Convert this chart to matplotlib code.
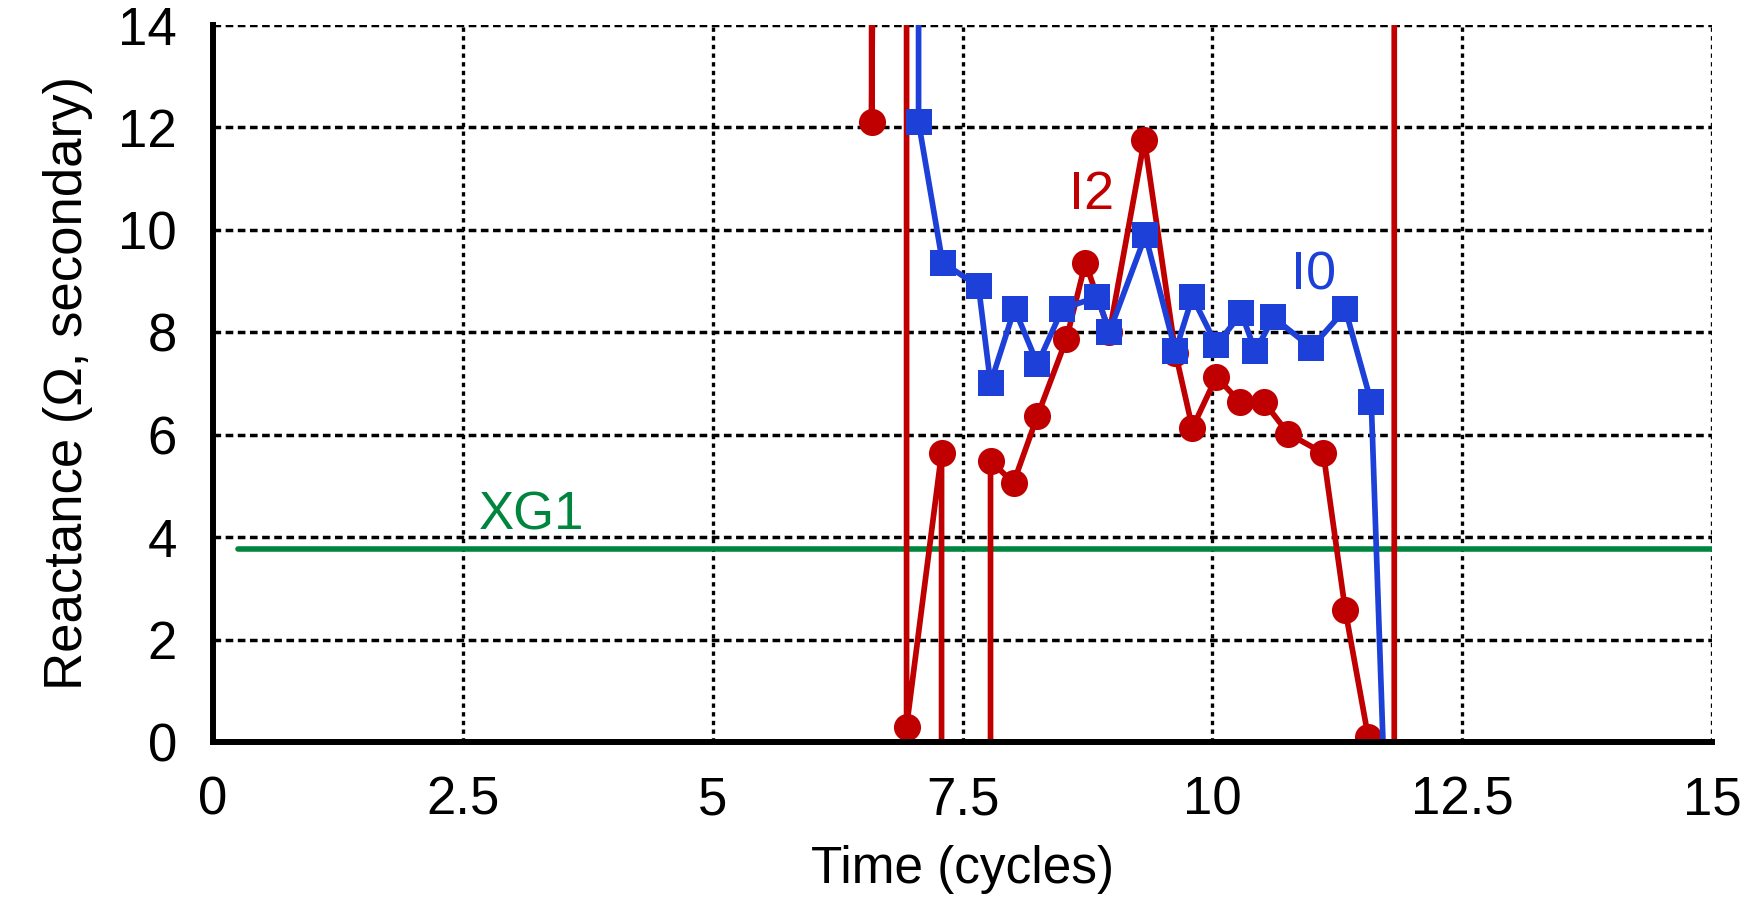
import numpy as np
import matplotlib
matplotlib.use("Agg")
import matplotlib.pyplot as plt

plt.rcParams['font.family'] = ['Liberation Sans', 'DejaVu Sans']

# DATA (+/-100 marks a sample that runs off the axes)
i2_time = [6.59, 6.59, 6.94, 6.94, 7.29, 7.29, 7.78, 7.78, 8.01, 8.25, 8.54,
           8.73, 8.97, 9.32, 9.63, 9.80, 10.04, 10.28, 10.52, 10.76, 11.11,
           11.33, 11.56, 11.82, 11.82]
i2_react = [100, 12.10, 100, 0.30, 5.64, -100, -100, 5.49, 5.06, 6.37, 7.87,
            9.36, 8.00, 11.76, 7.60, 6.13, 7.13, 6.63, 6.63, 6.02, 5.64,
            2.57, 0.09, -100, 100]

i0_time = [7.06, 7.06, 7.30, 7.66, 7.78, 8.02, 8.25, 8.50, 8.85, 8.97, 9.33,
           9.63, 9.80, 10.04, 10.29, 10.43, 10.61, 10.99, 11.33, 11.59, 11.84]
i0_react = [100, 12.10, 9.36, 8.90, 7.00, 8.46, 7.38, 8.46, 8.69, 8.01, 9.89,
            7.63, 8.69, 7.75, 8.37, 7.63, 8.29, 7.70, 8.45, 6.63, -7.5]

xg1_time = [0.25, 15.0]
xg1_react = [3.77, 3.77]

x_ticks = [0, 2.5, 5, 7.5, 10, 12.5, 15]
x_tick_labels = ["0", "2.5", "5", "7.5", "10", "12.5", "15"]
y_ticks = [0, 2, 4, 6, 8, 10, 12, 14]

RED = "#C00000"
BLUE = "#1C40D8"
GREEN = "#00853F"

fig = plt.figure(figsize=(17.65, 9.0), dpi=100)
ax = fig.add_axes([0.1207, 0.1756, 0.8493, 0.7966])

ax.plot(xg1_time, xg1_react, color=GREEN, lw=4.0, solid_capstyle='round', zorder=3)
ax.plot(i2_time, i2_react, color=RED, lw=4.1, marker='o', ms=19.5,
        markeredgewidth=0, solid_joinstyle='round', zorder=4)
ax.plot(i0_time, i0_react, color=BLUE, lw=4.1, marker='s', ms=19,
        markeredgewidth=0, solid_joinstyle='round', zorder=5)

ax.text(8.57, 10.40, "I2", color=RED, fontsize=39, ha='left', va='baseline')
ax.text(10.79, 8.83, "I0", color=BLUE, fontsize=39, ha='left', va='baseline')
ax.text(2.66, 4.14, "XG1", color=GREEN, fontsize=38, ha='left', va='baseline')

ax.set_xlim(0, 15)
ax.set_ylim(0, 14)
ax.set_xticks(x_ticks)
ax.set_xticklabels(x_tick_labels)
ax.set_yticks(y_ticks)
ax.tick_params(axis='both', length=0, labelsize=38)
ax.tick_params(axis='x', pad=24)
ax.tick_params(axis='y', pad=26)

ax.grid(axis='y', color='black', lw=2.5, linestyle=(0, (2.2, 1.3)))
ax.grid(axis='x', color='black', lw=2.4, linestyle=(0, (1.3, 1.3)))
ax.set_axisbelow(True)

for side in ['top', 'right']:
    ax.spines[side].set_visible(False)
for side in ['left', 'bottom']:
    ax.spines[side].set_linewidth(4.3)
    ax.spines[side].set_zorder(6)

ax.set_xlabel("Time (cycles)", fontsize=37, labelpad=14)
ax.set_ylabel("Reactance (\u03a9, secondary)", fontsize=38, labelpad=18)

fig.savefig("out.png", dpi=100)
